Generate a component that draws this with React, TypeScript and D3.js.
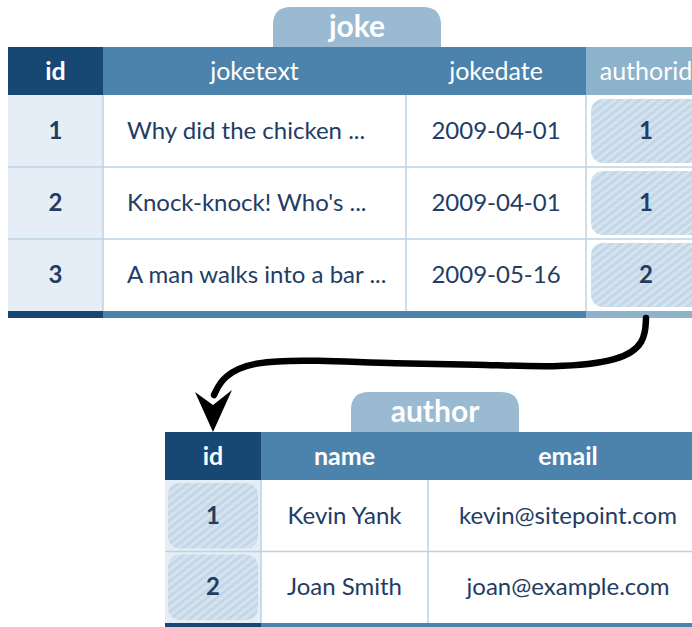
import React from "react";
import * as d3 from "d3";

// joke table
const jokeColumns = ["id", "joketext", "jokedate", "authorid"];
const jokeIds = ["1", "2", "3"];
const jokeTexts = ["Why did the chicken ...", "Knock-knock! Who's ...", "A man walks into a bar ..."];
const jokeDates = ["2009-04-01", "2009-04-01", "2009-05-16"];
const jokeAuthorIds = ["1", "1", "2"];

// author table
const authorColumns = ["id", "name", "email"];
const authorIds = ["1", "2"];
const authorNames = ["Kevin Yank", "Joan Smith"];
const authorEmails = ["kevin@sitepoint.com", "joan@example.com"];

const W = 692;
const H = 627;
const FONT = "Lato, 'Open Sans', sans-serif";
const TEXT = "#233c63";
const DARK = "#174873";
const MID = "#4b83ac";
const LIGHT = "#8db2cc";
const TAB = "#9abad1";
const IDBG = "#e5eef6";
const GRID = "#bcd3e4";
const BODY = 24;
const HEAD = 25;

function Hatch({ x, y, w, h, id }) {
  return <rect x={x} y={y} width={w} height={h} rx={12} fill={`url(#${id})`} />;
}

export default function App() {
  // joke table layout
  const jx = d3.scaleOrdinal<string, number>().domain(jokeColumns).range([8, 103, 406, 586]);
  const jw = d3.scaleOrdinal<string, number>().domain(jokeColumns).range([95, 303, 180, 120]);
  const jy = d3.scaleBand().domain(jokeIds).range([95, 311]);
  const jokeHeadY = 47;

  // author table layout
  const ax = d3.scaleOrdinal<string, number>().domain(authorColumns).range([165, 261, 428]);
  const aw = d3.scaleOrdinal<string, number>().domain(authorColumns).range([96, 167, 280]);
  const ay = d3.scaleBand().domain(authorIds).range([480, 623]);
  const authorHeadY = 432;

  const jokeHeadFill = (c: string) => (c === "id" ? DARK : c === "authorid" ? LIGHT : MID);

  // connector from joke.authorid to author.id
  const sx = jx("authorid") + jw("authorid") / 2;
  const sy = 318;
  const ex = ax("id") + aw("id") / 2;
  const ey = authorHeadY;
  const pts: [number, number][] = [
    [sx, sy],
    [sx - 1, sy + 25],
    [sx - 25, sy + 43],
    [sx - 90, sy + 50],
    [sx - 170, sy + 46],
    [sx - 250, sy + 46],
    [sx - 330, sy + 42],
    [ex + 40, sy + 43],
    [ex + 10, sy + 58],
    [ex + 1, ey - 37],
  ];
  const connector = d3.line().curve(d3.curveBasis)(pts) || "";
  const head = [
    [ex, ey],
    [ex - 18, ey - 40],
    [ex, ey - 27],
    [ex + 19, ey - 42],
  ];

  return (
    <svg
      width={W}
      height={H}
      style={{ position: "absolute", left: 0, top: 0, background: "#fff" }}
      fontFamily={FONT}
    >
      <defs>
        <pattern id="hatch" width="6" height="6" patternUnits="userSpaceOnUse" patternTransform="rotate(-38)">
          <rect width="6" height="6" fill="#cbdcea" />
          <line x1="0" y1="1.5" x2="6" y2="1.5" stroke="#dce8f2" strokeWidth="1.3" />
          <line x1="0" y1="4.5" x2="6" y2="4.5" stroke="#bad0e2" strokeWidth="0.9" />
        </pattern>
        <clipPath id="clip">
          <rect x={0} y={0} width={W} height={H} />
        </clipPath>
      </defs>

      <g clipPath="url(#clip)">
        {/* joke tab */}
        <path
          d={`M273,${jokeHeadY} L273,25 Q273,7 291,7 L423,7 Q441,7 441,25 L441,${jokeHeadY} Z`}
          fill={TAB}
        />
        <text x={357} y={37} textAnchor="middle" fill="#fff" fontSize={30} fontWeight={700}>
          joke
        </text>

        {/* joke header */}
        {jokeColumns.map((c) => (
          <g key={c}>
            <rect x={jx(c)} y={jokeHeadY} width={jw(c)} height={48} fill={jokeHeadFill(c)} />
            <text
              x={jx(c) + jw(c) / 2}
              y={jokeHeadY + 33}
              textAnchor="middle"
              fill="#fff"
              fontSize={HEAD}
              fontWeight={c === "id" ? 700 : 400}
            >
              {c}
            </text>
          </g>
        ))}

        {/* joke body */}
        <rect x={jx("id")} y={jy.range()[0]} width={jw("id")} height={jy.range()[1] - jy.range()[0]} fill={IDBG} />
        {jokeIds.map((id, i) => {
          const y = jy(id)!;
          const h = jy.bandwidth();
          const by = y + h / 2 + 8;
          return (
            <g key={id}>
              {i > 0 && <line x1={8} x2={W} y1={y} y2={y} stroke={GRID} strokeWidth={1.5} />}
              <text x={jx("id") + jw("id") / 2} y={by} textAnchor="middle" fill={TEXT} fontSize={BODY} fontWeight={700}>
                {id}
              </text>
              <text x={jx("joketext") + 24} y={by} fill={TEXT} fontSize={BODY}>
                {jokeTexts[i]}
              </text>
              <text x={jx("jokedate") + jw("jokedate") / 2} y={by} textAnchor="middle" fill={TEXT} fontSize={BODY}>
                {jokeDates[i]}
              </text>
              <Hatch x={jx("authorid") + 5} y={y + 4} w={jw("authorid")} h={h - 8} id="hatch" />
              <text x={jx("authorid") + jw("authorid") / 2} y={by} textAnchor="middle" fill={TEXT} fontSize={BODY} fontWeight={700}>
                {jokeAuthorIds[i]}
              </text>
            </g>
          );
        })}
        {jokeColumns.slice(1).map((c) => (
          <line key={c} x1={jx(c)} x2={jx(c)} y1={jy.range()[0]} y2={jy.range()[1]} stroke={GRID} strokeWidth={1.5} />
        ))}
        {/* joke bottom bar */}
        {jokeColumns.map((c) => (
          <rect key={c} x={jx(c)} y={jy.range()[1]} width={jw(c)} height={7} fill={jokeHeadFill(c)} />
        ))}

        {/* connector */}
        <path d={connector} fill="none" stroke="#000" strokeWidth={6.5} strokeLinecap="round" />
        <polygon points={head.map((p) => p.join(",")).join(" ")} fill="#000" />

        {/* author tab */}
        <path
          d={`M351,${authorHeadY} L351,410 Q351,392 369,392 L501,392 Q519,392 519,410 L519,${authorHeadY} Z`}
          fill={TAB}
        />
        <text x={435} y={422} textAnchor="middle" fill="#fff" fontSize={30} fontWeight={700}>
          author
        </text>

        {/* author header */}
        {authorColumns.map((c) => (
          <g key={c}>
            <rect x={ax(c)} y={authorHeadY} width={aw(c)} height={48} fill={c === "id" ? DARK : MID} />
            <text x={ax(c) + aw(c) / 2} y={authorHeadY + 33} textAnchor="middle" fill="#fff" fontSize={HEAD} fontWeight={700}>
              {c}
            </text>
          </g>
        ))}

        {/* author body */}
        <rect x={ax("id")} y={ay.range()[0]} width={aw("id")} height={ay.range()[1] - ay.range()[0]} fill={IDBG} />
        {authorIds.map((id, i) => {
          const y = ay(id)!;
          const h = ay.bandwidth();
          const by = y + h / 2 + 8;
          return (
            <g key={id}>
              {i > 0 && <line x1={ax("id")} x2={W} y1={y} y2={y} stroke={GRID} strokeWidth={1.5} />}
              <Hatch x={ax("id") + 3} y={y + 3} w={aw("id") - 6} h={h - 6} id="hatch" />
              <text x={ax("id") + aw("id") / 2} y={by} textAnchor="middle" fill={TEXT} fontSize={BODY} fontWeight={700}>
                {id}
              </text>
              <text x={ax("name") + aw("name") / 2} y={by} textAnchor="middle" fill={TEXT} fontSize={BODY}>
                {authorNames[i]}
              </text>
              <text x={ax("email") + aw("email") / 2} y={by} textAnchor="middle" fill={TEXT} fontSize={BODY}>
                {authorEmails[i]}
              </text>
            </g>
          );
        })}
        {authorColumns.slice(1).map((c) => (
          <line key={c} x1={ax(c)} x2={ax(c)} y1={ay.range()[0]} y2={ay.range()[1]} stroke={GRID} strokeWidth={1.5} />
        ))}
        {authorColumns.map((c) => (
          <rect key={c} x={ax(c)} y={ay.range()[1]} width={aw(c)} height={6} fill={c === "id" ? DARK : MID} />
        ))}
      </g>
    </svg>
  );
}
